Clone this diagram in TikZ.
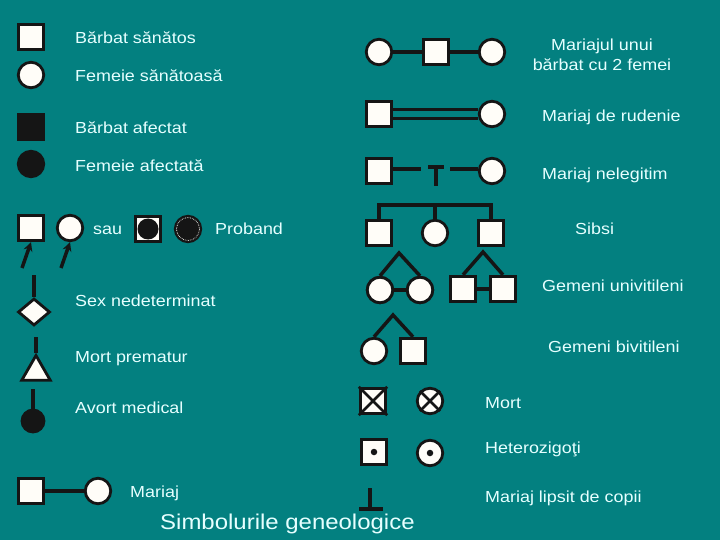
\documentclass[tikz,border=0pt]{standalone}
\usepackage{fontspec}
\setmainfont[FakeStretch=1.12]{Liberation Sans}
\usetikzlibrary{shapes.geometric,arrows.meta}
\definecolor{bg}{HTML}{038080}
\definecolor{txt}{HTML}{E6FFFF}
\definecolor{ink}{HTML}{151515}
\definecolor{paper}{HTML}{FFFDF8}
\begin{document}
\begin{tikzpicture}[x=1pt,y=-1pt,
  sq/.style={draw=ink,fill=paper,line width=2.8pt,minimum size=25.5pt,inner sep=0pt},
  ci/.style={circle,draw=ink,fill=paper,line width=2.8pt,minimum size=25.5pt,inner sep=0pt},
  lab/.style={text=txt,font=\fontsize{16}{20}\selectfont,anchor=mid west,inner sep=0pt,yshift=-3pt},
  ln/.style={draw=ink,line width=3.5pt},
  dotm/.style={circle,fill=ink,minimum size=6.5pt,inner sep=0pt}
]
\fill[bg] (0,0) rectangle (720,540);
\useasboundingbox (0,0) rectangle (720,540);

% left column
\node[sq] (bs) at (31,37) {};
\node[ci] (fs) at (31,75) {};
\node[sq,fill=ink] (ba) at (31,127) {};
\node[ci,fill=ink] (fa) at (31,164) {};
\node[lab] (tbs) at (75,38) {Bărbat sănătos};
\node[lab] (tfs) at (75,76) {Femeie sănătoasă};
\node[lab] (tba) at (75,128) {Bărbat afectat};
\node[lab] (tfa) at (75,166) {Femeie afectată};

% proband
\node[sq] (ps) at (31,228) {};
\node[ci] (pc) at (70,228) {};
\coordinate (pa1) at (22,268);
\coordinate (pa2) at (61,268);
\draw[ln,-{Stealth[length=9pt,width=9pt]}] (pa1) -- (ps.south);
\draw[ln,-{Stealth[length=9pt,width=9pt]}] (pa2) -- (pc.south);
\node[lab] (tsau) at (93,229) {sau};
\node[sq] (pb1) at (148,229) {};
\node[circle,fill=ink,minimum size=21pt,inner sep=0pt] (pb1i) at (pb1) {};
\node[ci,fill=ink] (pb2) at (188,229) {};
\draw[paper,line width=0.7pt,densely dotted] (pb2) circle (11.5);
\node[lab] (tpro) at (215,229) {Proband};

% sex nedeterminat
\node[diamond,draw=ink,fill=paper,line width=2.8pt,minimum width=32pt,minimum height=27pt,inner sep=0pt] (dm) at (34,312) {};
\coordinate (dm0) at (34,275);
\draw[ln] (dm0) -- (dm.north);
\node[lab] (tsex) at (75,301) {Sex nedeterminat};

% mort prematur
\node[regular polygon,regular polygon sides=3,draw=ink,fill=paper,line width=2.8pt,minimum size=33pt,inner sep=0pt] (tri) at (36,372) {};
\coordinate (tri0) at (36,337);
\draw[ln] (tri0) -- (tri.north);
\node[lab] (tmp) at (75,357) {Mort prematur};

% avort medical
\node[ci,fill=ink,minimum size=22pt] (am) at (33,421) {};
\coordinate (am0) at (33,389);
\draw[ln] (am0) -- (am.north);
\node[lab] (tam) at (75,408) {Avort medical};

% mariaj
\node[sq] (ms) at (31,491) {};
\node[ci] (mc) at (98,491) {};
\draw[ln] (ms) -- (mc);
\node[lab] (tm) at (130,492) {Mariaj};

% title
\node[text=txt,font=\fontsize{21.4}{26}\selectfont,anchor=mid west,inner sep=0pt,yshift=-3pt] (title) at (160,524) {Simbolurile geneologice};

% right: man with two wives
\node[ci] (m1a) at (379,52) {};
\node[sq] (m1b) at (436,52) {};
\node[ci] (m1c) at (492,52) {};
\draw[ln] (m1a) -- (m1b) -- (m1c);
\node[text=txt,font=\fontsize{16}{20}\selectfont,align=center,inner sep=0pt] (tm1) at (602,55) {Mariajul unui\\bărbat cu 2 femei};

% consanguineous
\node[sq] (r2a) at (379,114) {};
\node[ci] (r2b) at (492,114) {};
\draw[ln] ([yshift=4.5pt]r2a.east) -- ([yshift=4.5pt]r2b.west);
\draw[ln] ([yshift=-4.5pt]r2a.east) -- ([yshift=-4.5pt]r2b.west);
\node[lab] (tr2) at (542,116) {Mariaj de rudenie};

% illegitimate
\node[sq] (r3a) at (379,171) {};
\node[ci] (r3b) at (492,171) {};
\coordinate (t1) at (421,169);
\coordinate (t2) at (450,169);
\coordinate (tl) at (428,167);
\coordinate (tr) at (444,167);
\coordinate (tb) at (436,186);
\draw[ln] (r3a.east |- t1) -- (t1);
\draw[ln] (t2) -- (r3b.west |- t2);
\draw[ln] (tl) -- (tr);
\draw[ln] (tb) -- (tb |- tl);
\node[lab] (tr3) at (542,174) {Mariaj nelegitim};

% sibs
\node[sq] (s1) at (379,233) {};
\node[ci] (s2) at (435,233) {};
\node[sq] (s3) at (491,233) {};
\coordinate (sbar) at (435,205);
\draw[ln] (s1.north) -- (s1.north |- sbar) -- (s3.north |- sbar) -- (s3.north);
\draw[ln] (s2.north) -- (s2.north |- sbar);
\node[lab] (tsib) at (575,229) {Sibsi};

% monozygotic twins
\node[ci] (u1) at (380,290) {};
\node[ci] (u2) at (420,290) {};
\coordinate (ua) at (399,253);
\draw[ln] (u1) -- (u2);
\draw[ln] (u1.north) -- (ua) -- (u2.north);
\node[sq] (u3) at (463,289) {};
\node[sq] (u4) at (503,289) {};
\coordinate (ub) at (483,252);
\draw[ln] (u3) -- (u4);
\draw[ln] (u3.north) -- (ub) -- (u4.north);
\node[ci] at (u1) {};
\node[ci] at (u2) {};
\node[sq] at (u3) {};
\node[sq] at (u4) {};
\node[lab] (tuni) at (542,286) {Gemeni univitileni};

% dizygotic twins
\node[ci] (b1) at (374,351) {};
\node[sq] (b2) at (413,351) {};
\coordinate (ba0) at (393,315);
\draw[ln] (b1.north) -- (ba0) -- (b2.north);
\node[lab] (tbiv) at (548,347) {Gemeni bivitileni};

% dead
\node[sq] (dx1) at (373,401) {};
\node[ci] (dx2) at (430,401) {};
\draw[ink,line width=2.8pt] (dx1.north west) -- (dx1.south east) (dx1.north east) -- (dx1.south west);
\draw[ink,line width=2.8pt] (dx2.north west) -- (dx2.south east) (dx2.north east) -- (dx2.south west);
\node[lab] (tmort) at (485,403) {Mort};

% heterozygotes
\node[sq] (h1) at (374,452) {};
\node[ci] (h2) at (430,453) {};
\node[dotm] (h1d) at (h1) {};
\node[dotm] (h2d) at (h2) {};
\node[lab] (thet) at (485,448) {Heterozigoţi};

% childless marriage
\coordinate (c0) at (370,488);
\coordinate (cl) at (359,509);
\coordinate (cr) at (383,509);
\draw[ln] (c0) -- (c0 |- cl);
\draw[ln] (cl) -- (cr);
\node[lab] (tcop) at (485,497) {Mariaj lipsit de copii};
\end{tikzpicture}
\end{document}
